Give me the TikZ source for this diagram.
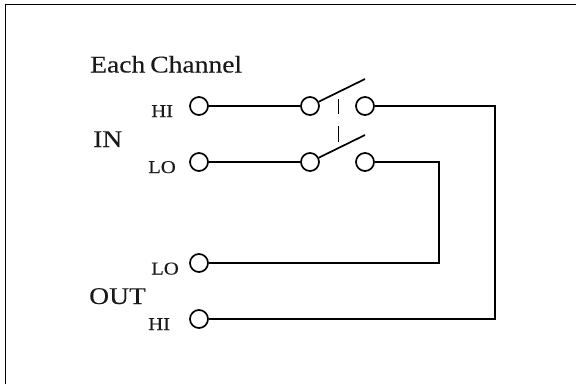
\documentclass[tikz,border=0pt]{standalone}
\usepackage{fontspec}
\setmainfont[FakeStretch=1.15,FakeBold=0.15,WordSpace=0.7]{Liberation Serif}
\begin{document}
\begin{tikzpicture}[x=1pt,y=-1pt,
  term/.style={circle,draw=black,line width=1.7pt,fill=white,minimum size=18pt,inner sep=0pt},
  wire/.style={draw=black,line width=1.7pt},
  big/.style={inner sep=0pt,font=\fontsize{24}{26}\selectfont,text=black!90},
  small/.style={inner sep=0pt,font=\fontsize{18}{20}\selectfont,text=black!90}]
\useasboundingbox (0,0) rectangle (576,384);
\draw[line width=1.7pt] (5.5,384) |- (576,4.5);
\node[term] (a) at (199,106) {};
\node[term] (b) at (199,162) {};
\node[term] (c) at (199,263) {};
\node[term] (d) at (199,319) {};
\node[term] (s1) at (310,106) {};
\node[term] (s2) at (365,106) {};
\node[term] (s3) at (310,162) {};
\node[term] (s4) at (365,162) {};
\coordinate (t1) at (365,79);
\coordinate (t2) at (365,135);
\coordinate (e2) at (495,319);
\coordinate (m1) at (439,162);
\coordinate (m2) at (439,263);
\coordinate (da) at (338.5,99);
\coordinate (db) at (338.5,114);
\coordinate (dc) at (338.5,126);
\coordinate (dd) at (338.5,142);
\path[wire] (a) -- (s1);
\path[wire] (b) -- (s3);
\path[wire] (s2) -- (s2 -| e2) -- (e2) -- (d);
\path[wire] (s4) -- (m1) -- (m2) -- (c);
\path[wire] (s1) -- (t1);
\path[wire] (s3) -- (t2);
\path[wire] (da) -- (db);
\path[wire] (dc) -- (dd);
\node[big,anchor=base west] (t) at (90,72.5) {Each Channel};
\node[big,anchor=base west] (in) at (93,147) {IN};
\node[big,anchor=base west] (out) at (89,304) {OUT};
\node[small,anchor=base west] (l1) at (151,117) {HI};
\node[small,anchor=base west] (l2) at (148,173) {LO};
\node[small,anchor=base west] (l3) at (151,274.5) {LO};
\node[small,anchor=base west] (l4) at (148,330) {HI};
\end{tikzpicture}
\end{document}
